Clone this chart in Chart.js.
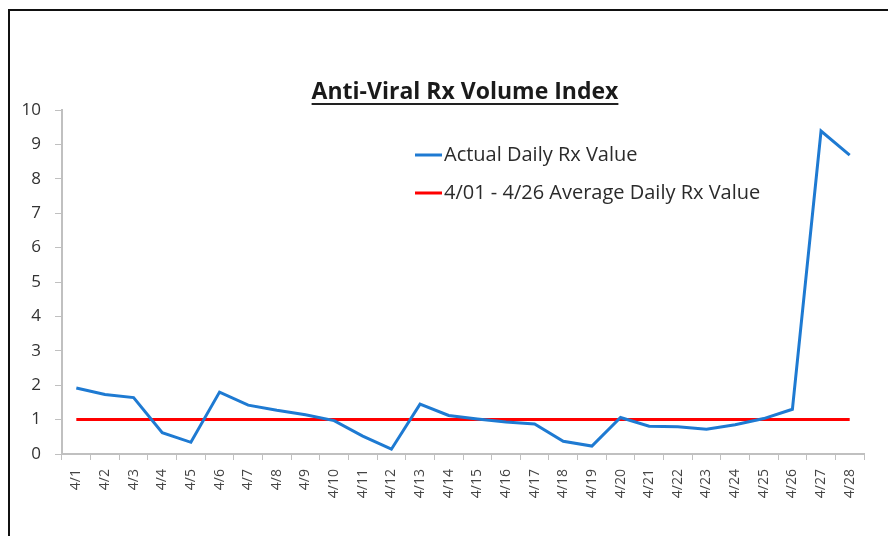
<!DOCTYPE html>
<html>
<head>
<meta charset="utf-8">
<script src="https://cdn.jsdelivr.net/npm/chart.js@4/dist/chart.umd.min.js"></script>
<style>
  html, body { margin: 0; padding: 0; background: #fff; }
  #wrap { position: relative; width: 888px; height: 536px; overflow: hidden; }
  #frame { position: absolute; left: 8px; top: 9px; right: -10px; bottom: -10px;
           border-top: 2px solid #111; border-left: 2px solid #111; pointer-events: none; }
  canvas { position: absolute; left: 0; top: 0; }
</style>
</head>
<body>
<div id="wrap">
  <canvas id="myChart" width="888" height="536"></canvas>
  <div id="frame"></div>
</div>
<script>
  const days = ['4/1', '4/2', '4/3', '4/4', '4/5', '4/6', '4/7', '4/8', '4/9', '4/10',
    '4/11', '4/12', '4/13', '4/14', '4/15', '4/16', '4/17', '4/18', '4/19', '4/20',
    '4/21', '4/22', '4/23', '4/24', '4/25', '4/26', '4/27', '4/28'];

  const actualRx = [1.92, 1.73, 1.64, 0.62, 0.34, 1.80, 1.42, 1.27, 1.14, 0.97,
    0.52, 0.14, 1.45, 1.12, 1.02, 0.93, 0.87, 0.37, 0.23, 1.06,
    0.81, 0.79, 0.72, 0.85, 1.03, 1.30, 9.39, 8.69];

  const averageRx = [1, 1, 1, 1, 1, 1, 1, 1, 1, 1, 1, 1, 1, 1,
    1, 1, 1, 1, 1, 1, 1, 1, 1, 1, 1, 1, 1, 1];

  const yTicks = [0, 1, 2, 3, 4, 5, 6, 7, 8, 9, 10];

  const chartTitle = 'Anti-Viral Rx Volume Index';

  // title with an underline, drawn above the plot
  const underlinedTitle = {
    id: 'underlinedTitle',
    afterDraw(chart) {
      const c = chart.ctx;
      c.save();
      c.font = 'bold 23px "Open Sans"';
      c.fillStyle = '#1a1a1a';
      c.textAlign = 'center';
      c.textBaseline = 'alphabetic';
      const cx = 465, by = 99;
      c.fillText(chartTitle, cx, by);
      const w = c.measureText(chartTitle).width;
      c.fillStyle = '#222';
      c.fillRect(cx - w / 2, by + 4, w, 2);
      c.restore();
    }
  };

  // legend sits inside the plot area
  const innerLegend = {
    id: 'innerLegend',
    afterDraw(chart) {
      const c = chart.ctx;
      c.save();
      c.font = '20px "Open Sans"';
      c.textBaseline = 'middle';
      chart.data.datasets.forEach((ds, i) => {
        const y = 155 + i * 38;
        c.strokeStyle = ds.borderColor;
        c.lineWidth = 3;
        c.beginPath();
        c.moveTo(415, y);
        c.lineTo(442, y);
        c.stroke();
        c.fillStyle = '#2b2b2b';
        c.fillText(ds.label, 444, y);
      });
      c.restore();
    }
  };

  new Chart(document.getElementById('myChart'), {
    type: 'line',
    data: {
      labels: days,
      datasets: [{
        label: 'Actual Daily Rx Value',
        data: actualRx,
        borderColor: 'rgb(30, 122, 210)',
        borderWidth: 3,
        pointRadius: 0,
        tension: 0
      }, {
        label: '4/01 - 4/26 Average Daily Rx Value',
        data: averageRx,
        borderColor: 'rgb(255, 0, 0)',
        borderWidth: 3,
        pointRadius: 0,
        tension: 0
      }]
    },
    options: {
      responsive: false,
      animation: false,
      layout: {
        padding: { top: 110, right: 24, left: 0, bottom: 0 }
      },
      plugins: {
        legend: { display: false },
        title: { display: false },
        tooltip: { enabled: false }
      },
      scales: {
        x: {
          offset: true,
          grid: {
            offset: true,
            drawOnChartArea: false,
            tickLength: 6,
            tickColor: '#c0c0c0'
          },
          border: { color: '#c0c0c0', width: 2 },
          ticks: {
            minRotation: 90,
            maxRotation: 90,
            autoSkip: false,
            padding: 9,
            color: '#444',
            font: { family: 'Open Sans', size: 14 }
          },
          afterFit(scale) { scale.height = 82; }
        },
        y: {
          min: 0,
          max: 10,
          afterBuildTicks(scale) { scale.ticks = yTicks.map(v => ({ value: v })); },
          grid: {
            drawOnChartArea: false,
            tickLength: 7,
            tickColor: '#c0c0c0'
          },
          border: { color: '#c0c0c0', width: 2 },
          ticks: {
            padding: 14,
            color: '#333',
            font: { family: 'Open Sans', size: 17 }
          },
          afterFit(scale) { scale.width = 62; }
        }
      }
    },
    plugins: [underlinedTitle, innerLegend]
  });
</script>
</body>
</html>
